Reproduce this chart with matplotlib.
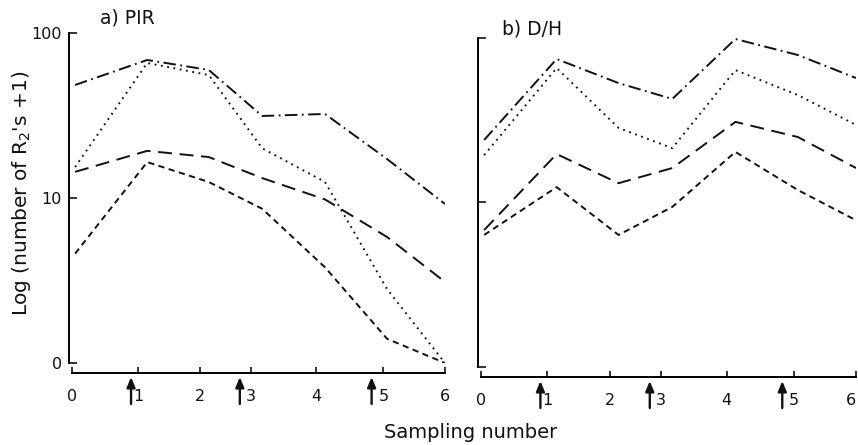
import matplotlib
matplotlib.use("Agg")
import matplotlib.pyplot as plt
import matplotlib.transforms as mtransforms

plt.rcParams['font.family'] = ['DejaVu Sans']
plt.rcParams['lines.scale_dashes'] = False

# sampling axis: where the ticks sit and where each sample was taken
tick_pos = [0, 1.06, 2.06, 2.88, 3.93, 5.01, 6.0]
tick_labels = ['0', '1', '2', '3', '4', '5', '6']
sample_x = [0.05, 1.21, 2.2, 3.06, 4.07, 5.07, 6.0]
arrow_x = [0.95, 2.70, 4.82]

# number of R2's + 1, panel a) PIR
pir_short = [4.6, 16.5, 12.5, 8.6, 3.8, 1.4, 1.0]
pir_long = [14.4, 19.3, 17.7, 13.2, 9.8, 5.8, 3.1]
pir_dashdot = [48.4, 68.6, 59.7, 31.4, 32.3, 17.2, 9.2]
pir_dotted = [15.4, 65.8, 55.6, 20.0, 12.5, 2.8, 1.0]

# panel b) D/H
dh_short = [6.35, 12.4, 6.35, 9.4, 20.3, 11.9, 7.8]
dh_long = [6.8, 19.7, 13.1, 16.2, 30.9, 25.0, 16.2]
dh_dashdot = [24.0, 74.5, 53.2, 42.6, 98.6, 78.8, 57.1]
dh_dotted = [19.4, 65.7, 28.4, 21.4, 63.8, 45.0, 29.6]

styles = {
    'short': (0, (4.5, 3.2)),
    'long': (0, (10, 5.5)),
    'dashdot': (0, (9, 3.2, 1.3, 3.2)),
    'dotted': (0, (1.3, 3.3)),
}

fig = plt.figure(figsize=(8.58, 4.45), dpi=100)
ax1 = fig.add_axes([0.0803, 0.1843, 0.4383, 0.7416])
ax2 = fig.add_axes([0.557, 0.1753, 0.4407, 0.7393])


def draw_panel(ax, series, show_ylabels):
    for vals, key in series:
        ax.plot(sample_x, vals, color='#111111', lw=1.4,
                linestyle=styles[key], solid_capstyle='butt',
                dash_capstyle='butt')
    ax.set_yscale('log')
    ax.set_ylim(1, 100)
    ax.set_xlim(-0.05, 6)
    ax.set_facecolor('none')
    for side in ('top', 'right'):
        ax.spines[side].set_visible(False)
    ax.spines['left'].set_linewidth(1.4)
    ax.spines['bottom'].set_linewidth(1.4)
    ax.spines['left'].set_bounds(1, 100)
    ax.spines['bottom'].set_bounds(0, 6)
    ax.spines['bottom'].set_position(('outward', 7.5))
    ax.set_yticks([1, 10, 100])
    ax.yaxis.set_minor_locator(matplotlib.ticker.NullLocator())
    if show_ylabels:
        ax.set_yticklabels(['0', '10', '100'])
    else:
        ax.set_yticklabels([])
    ax.set_xticks(tick_pos)
    ax.set_xticklabels(tick_labels)
    ax.tick_params(axis='y', direction='in', length=6, width=1.2,
                   labelsize=11.5, pad=5, colors='#111111')
    ax.tick_params(axis='x', direction='in', length=4, width=1.2,
                   labelsize=11.5, pad=11, colors='#111111')

    # arrows under the axis marking the treatment dates
    tip = mtransforms.offset_copy(ax.get_xaxis_transform(), fig=fig,
                                  y=-14, units='dots')
    tail = mtransforms.offset_copy(ax.get_xaxis_transform(), fig=fig,
                                   y=-41, units='dots')
    for xa in arrow_x:
        ax.annotate('', xy=(xa, 0), xycoords=tip,
                    xytext=(xa, 0), textcoords=tail,
                    arrowprops=dict(arrowstyle='-|>,head_length=0.6,head_width=0.25',
                                    lw=1.7, color='#111111',
                                    shrinkA=0, shrinkB=0),
                    annotation_clip=False)


draw_panel(ax1, [(pir_short, 'short'), (pir_long, 'long'),
                 (pir_dashdot, 'dashdot'), (pir_dotted, 'dotted')], True)
draw_panel(ax2, [(dh_short, 'short'), (dh_long, 'long'),
                 (dh_dashdot, 'dashdot'), (dh_dotted, 'dotted')], False)

# keep the last tick label of the right panel inside the canvas
ax2.xaxis.get_major_ticks()[-1].label1.set_horizontalalignment('right')

fig.text(100 / 858, 1 - 18 / 445, 'a) PIR', ha='left', va='center',
         fontsize=13.5, color='#111111')
fig.text(502 / 858, 1 - 29 / 445, 'b) D/H', ha='left', va='center',
         fontsize=13.5, color='#111111')
fig.text(471 / 858, 1 - 432 / 445, 'Sampling number', ha='center',
         va='center', fontsize=14, color='#111111')
fig.text(22 / 858, 1 - 193 / 445, "Log (number of R$_2$'s +1)",
         rotation=90, ha='center', va='center', fontsize=14.5,
         color='#111111')

fig.savefig('out.png', dpi=100, facecolor='white')
